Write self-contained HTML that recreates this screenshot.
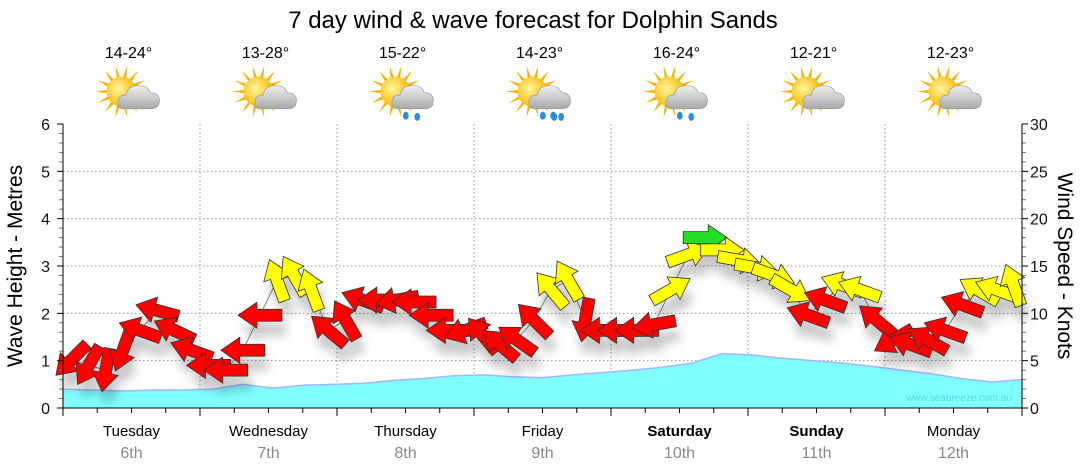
<!DOCTYPE html>
<html><head><meta charset="utf-8"><style>
body{margin:0;background:#fff;}
svg{display:block;font-family:"Liberation Sans",sans-serif;}
</style></head><body>
<svg id="chart" width="1080" height="475" viewBox="0 0 1080 475">
<defs>
<filter id="sh" x="-50%" y="-50%" width="200%" height="200%"><feGaussianBlur stdDeviation="5"/></filter>
<radialGradient id="sunG" cx="0.4" cy="0.4" r="0.6"><stop offset="0" stop-color="#fff6a0"/><stop offset="1" stop-color="#f7b800"/></radialGradient>
<linearGradient id="cloudG" x1="0" y1="0" x2="0" y2="1"><stop offset="0" stop-color="#f0f0f0"/><stop offset="1" stop-color="#a8a8a8"/></linearGradient>
</defs>
<text x="533" y="28" text-anchor="middle" font-size="24" fill="#000">7 day wind &amp; wave forecast for Dolphin Sands</text>
<g id="grid"></g>
<g id="waves"></g>
<text x="1012" y="401" text-anchor="end" font-size="10" fill="#5ad8e0">www.seabreeze.com.au</text>
<g id="windline"></g>
<g id="axes"></g>
<g id="icons"></g>
<text transform="translate(22,266) rotate(-90)" text-anchor="middle" font-size="21" fill="#000">Wave Height - Metres</text>
<text transform="translate(1058,266) rotate(90)" text-anchor="middle" font-size="21" fill="#000">Wind Speed - Knots</text>
</svg>
<script>
const days=["Tuesday","Wednesday","Thursday","Friday","Saturday","Sunday","Monday"];
const dates=["6th","7th","8th","9th","10th","11th","12th"];
const weekend=[false,false,false,false,true,true,false];
const temps=["14-24°","13-28°","15-22°","14-23°","16-24°","12-21°","12-23°"];
const rain=[0,0,1,2,1,0,0];
const waveTicks=[0,1,2,3,4,5,6];
const windTicks=[0,5,10,15,20,25,30];
const waveHeights=[0.4,0.38,0.36,0.38,0.38,0.4,0.5,0.42,0.48,0.5,0.52,0.58,0.62,0.68,0.7,0.66,0.64,0.7,0.75,0.8,0.86,0.95,1.15,1.12,1.05,1.0,0.95,0.88,0.8,0.72,0.62,0.55,0.6];
const windSpeed=[5.1,4.5,4.0,6.1,8.2,10.3,8.2,6.1, 4.5,4.0,6.1,9.8,13.5,14,12.5,8.2, 9.3,11.4,11.4,11.4,11.2,9.8,8.2,8.2, 7.7,6.7,7.2,9.3,12.5,13.5,9.3,8.2, 8.2,8.2,8.8,12.5,16.2,18,16.7,15.6, 14.8,14,12.5,9.8,11.4,13,12.5,9.3, 7.2,6.7,7.2,8.2,10.9,12.4,12.5,13];
const windDir=[135,120,100,110,200,195,205,200, 180,180,180,180,250,240,250,220, 240,200,180,170,180,180,180,160, 230,220,215,225,230,240,100,180, 180,180,170,330,340,0,0,10, 10,20,30,200,200,200,200,220, 150,200,210,200,200,210,200,250];
const NS="http://www.w3.org/2000/svg";
const X0=63,X1=1022,Y0=408,Y6=124;
const dayW=(X1-X0)/7;
function yWave(v){return Y0-(Y0-Y6)*v/6;}
function yWind(v){return Y0-(Y0-Y6)*v/30;}
function xHour(h){return X0+dayW*h/24;}
function mk(tag,attrs,parent){const e=document.createElementNS(NS,tag);for(const k in attrs)e.setAttribute(k,attrs[k]);parent.appendChild(e);return e;}
const grid=document.getElementById('grid'),axes=document.getElementById('axes');
waveTicks.forEach((t,i)=>{
  if(t>0&&t<6){const l=mk('line',{x1:X0,x2:X1,y1:yWave(t),y2:yWave(t),stroke:'#999','stroke-dasharray':'1.5,2.5'},grid);
  
  }
  const tx=mk('text',{x:50,y:yWave(t)+6,'text-anchor':'end','font-size':16,fill:'#111'},axes);tx.textContent=t;
  
  
});
for(let m=0;m<=30;m++){const v=m*0.2;const long=m%5==0;mk('line',{x1:X0-(long?6:4),x2:X0,y1:yWave(v),y2:yWave(v),stroke:long?'#000':'#777'},axes);
 mk('line',{x1:X1,x2:X1+(long?6:4),y1:yWave(v),y2:yWave(v),stroke:long?'#000':'#777'},axes);}
windTicks.forEach(t=>{const tx=mk('text',{x:1030,y:yWind(t)+6,'font-size':16,fill:'#111'},axes);tx.textContent=t;
  
  });
for(let d=1;d<7;d++){const l=mk('line',{x1:X0+d*dayW,x2:X0+d*dayW,y1:Y6,y2:Y0,stroke:'#999','stroke-dasharray':'1.5,2.5'},grid);
  
  }
mk('line',{x1:X0,x2:X0,y1:Y6,y2:Y0,stroke:'#000'},axes);
mk('line',{x1:X1,x2:X1,y1:Y6,y2:Y0,stroke:'#000'},axes);
mk('line',{x1:X0,x2:X1,y1:Y0,y2:Y0,stroke:'#000'},axes);
for(let h=0;h<=168;h+=6){const long=h%24==0;mk('line',{x1:xHour(h),x2:xHour(h),y1:Y0,y2:Y0+(long?8:5),stroke:'#000'},axes);}
days.forEach((d,i)=>{const cx=X0+dayW*(i+0.5);
  const t=mk('text',{x:cx,y:436,'text-anchor':'middle','font-size':15,fill:'#000','font-weight':weekend[i]?'bold':'normal'},axes);t.textContent=d;
  
  
  const t2=mk('text',{x:cx,y:458,'text-anchor':'middle','font-size':16,fill:'#888'},axes);t2.textContent=dates[i];
  
  
});
const wg=document.getElementById('waves');
let pts=waveHeights.map((v,i)=>[X0+(X1-X0)*i/(waveHeights.length-1),yWave(v)]);
let dA='M'+X0+','+Y0+' '+pts.map(p=>'L'+p[0].toFixed(1)+','+p[1].toFixed(1)).join(' ')+' L'+X1+','+Y0+' Z';
const area=mk('path',{d:dA,fill:'#80ffff',stroke:'none'},wg);


mk('polyline',{points:pts.map(p=>p.join(',')).join(' '),fill:'none',stroke:'#a0b8ff','stroke-width':1.5},wg);
const wl=document.getElementById('windline');
const wpts=windSpeed.map((v,i)=>[xHour(3*i+1.5),yWind(v)]);
mk('polyline',{points:wpts.map(p=>p.join(',')).join(' '),fill:'none',stroke:'#888','stroke-width':1},wl);
const shp='M-22,-6 L3,-6 L3,-13 L22,0 L3,13 L3,6 L-22,6 Z';
const shg=mk('g',{opacity:0.22,filter:'url(#sh)'},wl);
wpts.forEach((p,i)=>mk('path',{d:shp,fill:'#000',transform:`translate(${p[0]+4},${p[1]+14}) rotate(${windDir[i]})`},shg));
wpts.forEach((p,i)=>{const v=windSpeed[i];const c=v>=17.5?'#22dd22':v>=12?'#ffff00':'#ff0000';
  const a=mk('path',{d:shp,fill:c,stroke:'#333','stroke-width':0.8,transform:`translate(${p[0]},${p[1]}) rotate(${windDir[i]})`},wl);
  
  
});
const ic=document.getElementById('icons');
temps.forEach((t,i)=>{const cx=X0+dayW*(i+0.5);
  const tx=mk('text',{x:cx-3,y:58,'text-anchor':'middle','font-size':16,fill:'#000'},ic);tx.textContent=t;
  
  
  const g=mk('g',{transform:`translate(${cx-2},95) scale(1.15)`},ic);
  
  
  for(let k=0;k<14;k++){const an=k*Math.PI*2/14;mk('polygon',{points:`${-7+Math.cos(an-0.15)*11},${-3+Math.sin(an-0.15)*11} ${-7+Math.cos(an)*23},${-3+Math.sin(an)*23} ${-7+Math.cos(an+0.15)*11},${-3+Math.sin(an+0.15)*11}`,fill:'#f5b400'},g);}
  mk('circle',{cx:-7,cy:-3,r:13,fill:'url(#sunG)'},g);
  mk('path',{d:'M-6,12 Q-10,12 -10,6 Q-10,0 -3,0 Q-1,-9 9,-8 Q16,-8 18,-2 Q26,-2 26,5 Q26,12 18,12 Z',fill:'url(#cloudG)',stroke:'#999','stroke-width':0.6},g);
  for(let r=0;r<rain[i];r++){mk('ellipse',{cx:2+r*9,cy:18,rx:2.5,ry:3.5,fill:'#2a8fe0'},g);mk('ellipse',{cx:12+r*6,cy:19,rx:2.5,ry:3.5,fill:'#2a8fe0'},g);}
});
</script>
</body></html>
